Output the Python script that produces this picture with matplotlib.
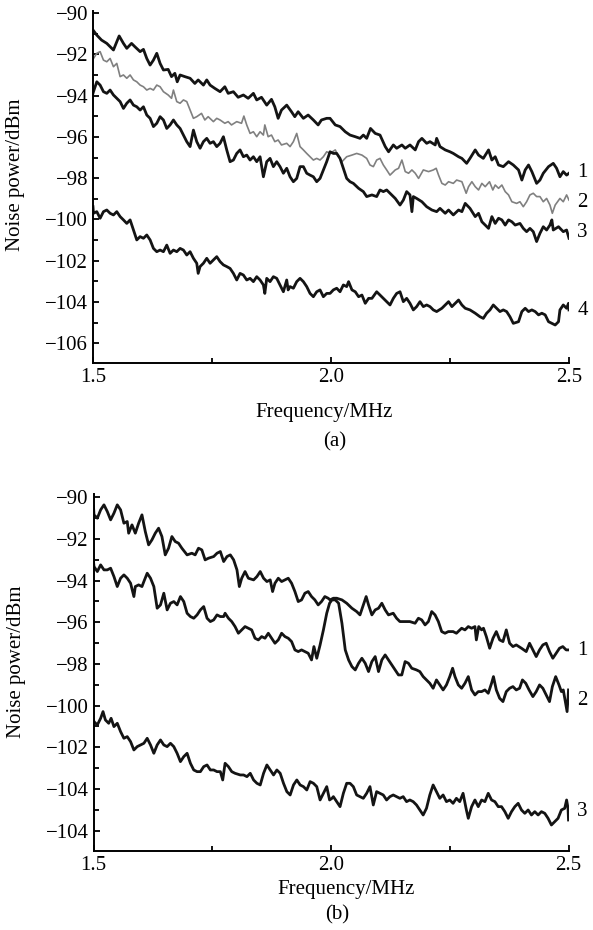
"""Noise power spectra, panels (a) and (b), redrawn from the printed figure."""

import matplotlib

matplotlib.use("Agg")
import matplotlib.pyplot as plt
import numpy as np
from matplotlib.ticker import FixedLocator, MultipleLocator

plt.rcParams["font.family"] = ["Liberation Serif", "DejaVu Serif"]

# (frequency MHz, noise power dBm)
trace_a1 = [
    (1.500, -90.82), (1.508, -91.07), (1.518, -91.31), (1.529, -91.47), (1.543, -91.79), (1.550, -91.39),
    (1.555, -91.11), (1.564, -91.47), (1.571, -91.71), (1.581, -91.47), (1.588, -91.63), (1.599, -91.87),
    (1.606, -91.76), (1.613, -92.20), (1.620, -92.52), (1.627, -92.28), (1.634, -91.95), (1.641, -92.44),
    (1.648, -92.76), (1.658, -92.73), (1.665, -93.08), (1.672, -92.92), (1.677, -93.33), (1.683, -93.00),
    (1.693, -93.08), (1.704, -93.16), (1.714, -93.41), (1.721, -93.24), (1.732, -93.49), (1.739, -93.24),
    (1.746, -93.49), (1.756, -93.65), (1.767, -93.81), (1.777, -93.57), (1.784, -93.89), (1.795, -93.81),
    (1.805, -94.08), (1.816, -93.97), (1.826, -94.13), (1.837, -93.89), (1.844, -94.21), (1.854, -94.08),
    (1.865, -94.46), (1.875, -94.18), (1.882, -94.54), (1.889, -95.10), (1.896, -94.70), (1.907, -94.46),
    (1.917, -94.78), (1.924, -95.02), (1.931, -94.78), (1.942, -95.10), (1.952, -94.94), (1.963, -95.18),
    (1.973, -95.42), (1.980, -95.18), (1.991, -95.10), (1.998, -95.10), (2.009, -95.42), (2.019, -95.50),
    (2.030, -95.75), (2.040, -95.91), (2.051, -95.99), (2.061, -96.07), (2.068, -95.91), (2.075, -96.07),
    (2.083, -95.59), (2.093, -95.83), (2.103, -95.91), (2.114, -96.47), (2.121, -96.72), (2.131, -96.39),
    (2.138, -96.55), (2.149, -96.39), (2.156, -96.55), (2.166, -96.39), (2.177, -96.63), (2.184, -96.23),
    (2.191, -96.07), (2.201, -96.31), (2.208, -96.23), (2.219, -96.39), (2.222, -96.07), (2.229, -96.47),
    (2.240, -96.63), (2.250, -96.72), (2.257, -96.80), (2.268, -96.96), (2.275, -97.04), (2.285, -97.28),
    (2.292, -97.04), (2.303, -96.63), (2.310, -96.88), (2.320, -97.04), (2.331, -96.63), (2.338, -97.12),
    (2.345, -96.96), (2.352, -97.36), (2.362, -97.44), (2.373, -97.20), (2.383, -97.36), (2.394, -97.60),
    (2.401, -98.09), (2.408, -97.60), (2.415, -97.36), (2.422, -97.68), (2.432, -98.25), (2.439, -98.09),
    (2.446, -97.76), (2.457, -97.44), (2.467, -97.28), (2.474, -97.52), (2.481, -97.93), (2.488, -97.68),
    (2.495, -97.85), (2.500, -97.76),
]
trace_a2 = [
    (1.500, -92.11), (1.501, -92.20), (1.508, -91.95), (1.515, -91.87), (1.522, -92.28), (1.529, -92.36),
    (1.536, -92.20), (1.543, -92.60), (1.550, -92.44), (1.557, -93.08), (1.564, -93.00), (1.571, -93.16),
    (1.578, -93.00), (1.585, -93.24), (1.592, -93.33), (1.599, -93.49), (1.606, -93.57), (1.613, -93.73),
    (1.620, -93.65), (1.627, -93.73), (1.634, -93.49), (1.641, -93.57), (1.648, -93.81), (1.658, -93.97),
    (1.665, -94.13), (1.669, -93.73), (1.676, -94.29), (1.683, -94.37), (1.690, -94.21), (1.697, -94.29),
    (1.704, -94.70), (1.711, -95.10), (1.718, -95.02), (1.728, -94.86), (1.735, -95.18), (1.742, -95.02),
    (1.753, -95.26), (1.760, -95.10), (1.767, -95.18), (1.777, -95.34), (1.784, -95.26), (1.791, -95.42),
    (1.802, -95.26), (1.812, -95.34), (1.817, -94.99), (1.823, -95.42), (1.830, -95.83), (1.837, -95.75),
    (1.844, -95.99), (1.851, -95.75), (1.858, -95.91), (1.861, -95.42), (1.868, -95.99), (1.875, -95.91),
    (1.882, -96.23), (1.889, -96.15), (1.896, -96.39), (1.907, -96.31), (1.914, -96.47), (1.921, -96.23),
    (1.928, -95.83), (1.935, -96.47), (1.942, -96.63), (1.949, -96.80), (1.956, -96.96), (1.963, -97.12),
    (1.970, -97.04), (1.977, -97.12), (1.984, -96.96), (1.991, -96.72), (1.998, -96.80), (2.009, -96.63),
    (2.016, -96.96), (2.023, -97.20), (2.033, -96.96), (2.044, -96.88), (2.054, -96.80), (2.065, -96.88),
    (2.075, -97.04), (2.082, -97.36), (2.089, -97.44), (2.096, -97.12), (2.103, -97.04), (2.110, -97.36),
    (2.117, -97.60), (2.124, -97.85), (2.135, -97.60), (2.142, -97.52), (2.149, -97.12), (2.156, -97.68),
    (2.163, -97.76), (2.170, -97.60), (2.177, -97.76), (2.184, -98.01), (2.194, -97.60), (2.205, -97.68),
    (2.215, -97.60), (2.221, -97.52), (2.226, -97.85), (2.233, -98.25), (2.240, -98.33), (2.247, -98.17),
    (2.257, -98.25), (2.264, -98.09), (2.275, -98.17), (2.284, -98.73), (2.289, -98.41), (2.296, -98.17),
    (2.303, -98.41), (2.310, -98.57), (2.317, -98.25), (2.324, -98.41), (2.333, -98.17), (2.340, -98.57),
    (2.345, -98.33), (2.352, -98.49), (2.359, -98.33), (2.366, -98.65), (2.373, -98.81), (2.380, -99.14),
    (2.390, -99.22), (2.397, -99.14), (2.404, -99.38), (2.411, -99.14), (2.418, -98.81), (2.425, -98.73),
    (2.432, -98.89), (2.439, -98.89), (2.446, -99.14), (2.453, -98.98), (2.460, -99.30), (2.465, -99.70),
    (2.471, -99.30), (2.481, -98.98), (2.488, -99.14), (2.495, -98.81), (2.500, -99.06),
]
trace_a3 = [
    (1.500, -93.89), (1.501, -93.81), (1.508, -93.33), (1.515, -93.49), (1.522, -93.81), (1.529, -93.89),
    (1.536, -93.73), (1.543, -93.97), (1.550, -94.13), (1.557, -94.29), (1.564, -94.62), (1.571, -94.37),
    (1.578, -94.21), (1.585, -94.46), (1.592, -94.54), (1.599, -94.70), (1.606, -94.54), (1.613, -94.94),
    (1.620, -95.10), (1.627, -95.50), (1.634, -95.34), (1.641, -95.02), (1.648, -95.18), (1.655, -95.59),
    (1.662, -95.42), (1.669, -95.18), (1.676, -95.42), (1.683, -95.59), (1.690, -95.91), (1.697, -96.23),
    (1.704, -96.47), (1.711, -95.67), (1.718, -96.23), (1.725, -96.55), (1.732, -96.23), (1.739, -96.07),
    (1.746, -96.31), (1.753, -96.23), (1.760, -96.47), (1.767, -96.31), (1.774, -95.99), (1.781, -96.63),
    (1.788, -97.20), (1.795, -97.12), (1.802, -96.80), (1.809, -96.63), (1.816, -96.96), (1.823, -96.88),
    (1.830, -97.12), (1.837, -96.96), (1.844, -97.20), (1.851, -96.96), (1.858, -97.93), (1.865, -97.20),
    (1.872, -97.04), (1.879, -97.44), (1.886, -97.20), (1.893, -97.44), (1.900, -97.76), (1.907, -97.52),
    (1.914, -97.93), (1.921, -98.17), (1.928, -98.01), (1.935, -97.44), (1.942, -97.44), (1.949, -97.76),
    (1.956, -97.85), (1.963, -97.93), (1.970, -98.17), (1.977, -98.01), (1.984, -97.60), (1.991, -97.20),
    (1.998, -96.72), (2.005, -96.80), (2.012, -96.80), (2.019, -97.04), (2.026, -97.52), (2.033, -98.01),
    (2.040, -98.17), (2.047, -98.25), (2.058, -98.49), (2.068, -98.65), (2.075, -98.89), (2.086, -98.81),
    (2.096, -98.89), (2.103, -98.57), (2.110, -98.65), (2.117, -98.57), (2.124, -98.73), (2.135, -98.98),
    (2.145, -99.30), (2.152, -99.06), (2.159, -98.65), (2.166, -98.81), (2.170, -99.62), (2.173, -98.89),
    (2.180, -98.98), (2.191, -99.14), (2.201, -99.38), (2.212, -99.54), (2.222, -99.62), (2.229, -99.46),
    (2.240, -99.70), (2.247, -99.54), (2.257, -99.78), (2.268, -99.54), (2.275, -99.62), (2.282, -99.22),
    (2.292, -99.46), (2.303, -99.86), (2.310, -99.70), (2.317, -100.11), (2.324, -100.27), (2.331, -100.43),
    (2.338, -99.86), (2.345, -100.19), (2.352, -99.94), (2.359, -100.02), (2.366, -100.27), (2.373, -100.02),
    (2.380, -100.11), (2.387, -100.27), (2.397, -100.19), (2.404, -100.43), (2.411, -100.59), (2.418, -100.43),
    (2.425, -100.59), (2.432, -101.07), (2.439, -100.67), (2.446, -100.35), (2.453, -100.51), (2.460, -100.27),
    (2.464, -100.02), (2.467, -100.51), (2.478, -100.35), (2.488, -100.59), (2.495, -100.51), (2.500, -100.91),
]
trace_a4 = [
    (1.500, -99.38), (1.501, -99.70), (1.508, -99.62), (1.515, -99.94), (1.522, -99.62), (1.529, -99.54),
    (1.536, -99.70), (1.543, -99.78), (1.550, -99.62), (1.557, -99.86), (1.564, -100.02), (1.571, -100.19),
    (1.578, -100.02), (1.585, -100.51), (1.592, -100.99), (1.599, -100.83), (1.606, -100.91), (1.613, -100.75),
    (1.620, -100.99), (1.627, -101.40), (1.634, -101.56), (1.641, -101.48), (1.648, -101.56), (1.655, -101.24),
    (1.662, -101.64), (1.669, -101.48), (1.676, -101.56), (1.683, -101.40), (1.690, -101.48), (1.697, -101.72),
    (1.704, -101.56), (1.711, -101.88), (1.718, -102.12), (1.721, -102.61), (1.725, -102.28), (1.732, -102.12),
    (1.739, -101.88), (1.746, -102.12), (1.753, -101.96), (1.760, -101.80), (1.767, -102.04), (1.774, -102.20),
    (1.781, -102.28), (1.788, -102.37), (1.795, -102.61), (1.802, -102.93), (1.809, -102.61), (1.816, -102.69),
    (1.823, -102.93), (1.830, -102.85), (1.837, -103.01), (1.844, -102.77), (1.851, -102.93), (1.858, -103.17),
    (1.861, -103.58), (1.865, -102.85), (1.872, -103.01), (1.879, -102.77), (1.886, -102.85), (1.893, -103.17),
    (1.900, -103.50), (1.907, -102.93), (1.910, -103.41), (1.914, -103.25), (1.921, -103.33), (1.928, -103.01),
    (1.935, -102.85), (1.942, -103.01), (1.949, -103.25), (1.956, -103.58), (1.963, -103.74), (1.970, -103.50),
    (1.977, -103.41), (1.984, -103.74), (1.991, -103.58), (1.998, -103.58), (2.005, -103.41), (2.012, -103.33),
    (2.019, -103.50), (2.026, -103.17), (2.033, -103.25), (2.037, -103.01), (2.044, -103.41), (2.051, -103.50),
    (2.058, -103.74), (2.065, -103.66), (2.072, -104.06), (2.079, -103.82), (2.086, -103.82), (2.096, -103.50),
    (2.103, -103.66), (2.110, -103.82), (2.117, -103.98), (2.124, -104.14), (2.131, -103.82), (2.138, -103.58),
    (2.145, -103.50), (2.152, -103.98), (2.159, -103.82), (2.166, -104.06), (2.173, -104.38), (2.180, -104.22),
    (2.187, -103.98), (2.194, -104.22), (2.201, -104.14), (2.208, -104.22), (2.215, -104.38), (2.222, -104.46),
    (2.233, -104.30), (2.240, -104.14), (2.247, -103.98), (2.254, -104.22), (2.261, -104.06), (2.268, -103.90),
    (2.275, -104.14), (2.282, -104.30), (2.292, -104.38), (2.303, -104.54), (2.313, -104.71), (2.320, -104.79),
    (2.327, -104.54), (2.334, -104.38), (2.341, -104.14), (2.348, -104.30), (2.355, -104.46), (2.362, -104.38),
    (2.369, -104.46), (2.376, -104.71), (2.383, -105.03), (2.394, -104.95), (2.401, -104.46), (2.408, -104.30),
    (2.415, -104.46), (2.422, -104.38), (2.429, -104.46), (2.436, -104.62), (2.443, -104.54), (2.450, -104.62),
    (2.457, -104.95), (2.464, -105.03), (2.471, -105.11), (2.478, -104.95), (2.481, -104.38), (2.488, -104.14),
    (2.495, -104.30), (2.499, -104.06), (2.500, -104.38),
]

trace_b1 = [
    (1.500, -90.45), (1.501, -90.85), (1.508, -91.01), (1.515, -90.61), (1.522, -90.37), (1.529, -90.69),
    (1.536, -91.09), (1.543, -90.77), (1.550, -90.37), (1.557, -90.61), (1.564, -91.25), (1.571, -91.17),
    (1.574, -91.73), (1.581, -91.33), (1.588, -91.73), (1.595, -91.25), (1.602, -90.85), (1.609, -91.65),
    (1.616, -92.29), (1.623, -92.05), (1.630, -91.73), (1.637, -91.49), (1.644, -91.89), (1.651, -92.77),
    (1.658, -92.45), (1.665, -91.89), (1.672, -92.13), (1.679, -92.21), (1.686, -92.45), (1.697, -92.77),
    (1.707, -92.69), (1.714, -92.77), (1.721, -92.45), (1.728, -92.53), (1.735, -93.01), (1.742, -92.93),
    (1.753, -92.85), (1.760, -92.69), (1.767, -92.61), (1.774, -93.09), (1.781, -92.85), (1.788, -92.77),
    (1.795, -93.01), (1.802, -93.49), (1.807, -94.29), (1.812, -93.89), (1.819, -93.57), (1.826, -93.89),
    (1.837, -93.97), (1.844, -93.81), (1.851, -93.57), (1.858, -93.89), (1.865, -94.05), (1.872, -93.97),
    (1.877, -94.53), (1.882, -94.13), (1.889, -93.89), (1.896, -94.05), (1.903, -93.97), (1.910, -93.89),
    (1.917, -94.13), (1.924, -94.53), (1.931, -95.01), (1.938, -94.93), (1.945, -94.61), (1.952, -94.53),
    (1.959, -94.77), (1.966, -94.93), (1.973, -95.17), (1.980, -95.01), (1.987, -94.77), (1.994, -94.85),
    (1.998, -94.93), (2.005, -94.85), (2.012, -94.85), (2.023, -94.93), (2.033, -95.09), (2.044, -95.33),
    (2.054, -95.49), (2.061, -95.65), (2.068, -95.17), (2.074, -94.77), (2.079, -95.17), (2.086, -95.65),
    (2.093, -95.41), (2.100, -95.33), (2.107, -95.09), (2.114, -95.41), (2.121, -95.65), (2.131, -95.57),
    (2.138, -95.81), (2.145, -95.97), (2.156, -95.97), (2.166, -95.97), (2.177, -96.05), (2.184, -95.81),
    (2.191, -95.89), (2.198, -96.13), (2.205, -95.97), (2.212, -95.49), (2.219, -95.65), (2.226, -95.97),
    (2.233, -96.45), (2.240, -96.53), (2.247, -96.45), (2.257, -96.45), (2.264, -96.53), (2.275, -96.29),
    (2.282, -96.37), (2.289, -96.21), (2.296, -96.29), (2.303, -96.21), (2.306, -96.85), (2.311, -96.21),
    (2.317, -96.37), (2.321, -96.29), (2.327, -96.69), (2.334, -97.25), (2.341, -96.77), (2.348, -96.45),
    (2.355, -96.85), (2.362, -96.93), (2.369, -96.37), (2.376, -97.01), (2.383, -97.17), (2.390, -97.09),
    (2.401, -97.25), (2.411, -97.41), (2.418, -97.01), (2.425, -97.33), (2.432, -97.65), (2.439, -97.33),
    (2.446, -97.09), (2.453, -97.01), (2.460, -97.41), (2.467, -97.73), (2.474, -97.49), (2.481, -97.25),
    (2.488, -97.17), (2.495, -97.33), (2.500, -97.33),
]
trace_b2 = [
    (1.500, -93.09), (1.501, -93.33), (1.508, -93.57), (1.515, -93.25), (1.522, -93.49), (1.529, -93.49),
    (1.536, -93.41), (1.543, -93.81), (1.550, -94.29), (1.557, -93.89), (1.564, -93.73), (1.571, -93.89),
    (1.578, -94.13), (1.585, -94.77), (1.588, -94.29), (1.595, -94.21), (1.602, -94.29), (1.606, -94.05),
    (1.613, -93.65), (1.620, -93.89), (1.627, -94.29), (1.634, -95.33), (1.641, -95.17), (1.648, -94.61),
    (1.655, -95.41), (1.662, -95.09), (1.669, -95.01), (1.676, -95.17), (1.683, -94.77), (1.690, -95.01),
    (1.697, -95.57), (1.704, -95.73), (1.711, -95.81), (1.718, -95.65), (1.725, -95.41), (1.732, -95.25),
    (1.739, -95.81), (1.746, -95.97), (1.753, -95.89), (1.760, -95.65), (1.767, -95.73), (1.774, -95.73),
    (1.777, -95.57), (1.784, -95.81), (1.791, -95.97), (1.798, -96.21), (1.805, -96.53), (1.812, -96.37),
    (1.819, -96.21), (1.826, -96.29), (1.833, -96.37), (1.840, -96.77), (1.847, -96.85), (1.854, -96.69),
    (1.861, -96.77), (1.868, -96.53), (1.875, -96.77), (1.882, -97.01), (1.889, -96.85), (1.896, -96.53),
    (1.903, -96.69), (1.910, -96.77), (1.917, -96.93), (1.924, -97.33), (1.931, -97.41), (1.938, -97.33),
    (1.945, -97.41), (1.952, -97.49), (1.959, -97.81), (1.964, -97.17), (1.970, -97.73), (1.977, -97.09),
    (1.984, -96.37), (1.991, -95.57), (1.997, -95.09), (2.002, -94.93), (2.009, -94.93), (2.016, -95.09),
    (2.023, -96.05), (2.030, -97.33), (2.037, -97.81), (2.044, -98.13), (2.051, -98.29), (2.058, -97.97),
    (2.065, -97.73), (2.072, -97.97), (2.079, -98.37), (2.086, -97.89), (2.093, -97.65), (2.100, -98.37),
    (2.107, -97.81), (2.114, -97.57), (2.121, -97.81), (2.128, -98.05), (2.135, -98.29), (2.142, -98.53),
    (2.149, -98.53), (2.156, -97.89), (2.163, -97.97), (2.170, -98.21), (2.180, -98.29), (2.187, -98.37),
    (2.194, -98.61), (2.201, -98.77), (2.208, -98.93), (2.215, -99.17), (2.222, -98.77), (2.229, -99.01),
    (2.236, -99.25), (2.243, -99.01), (2.250, -98.61), (2.256, -98.21), (2.261, -98.61), (2.268, -99.01),
    (2.275, -99.17), (2.282, -98.93), (2.289, -98.61), (2.296, -99.25), (2.303, -99.49), (2.310, -99.33),
    (2.317, -99.33), (2.324, -99.25), (2.331, -99.41), (2.338, -98.93), (2.342, -98.61), (2.348, -99.25),
    (2.355, -99.65), (2.362, -99.81), (2.369, -99.33), (2.376, -99.17), (2.383, -99.09), (2.390, -99.25),
    (2.397, -99.17), (2.403, -98.77), (2.410, -98.93), (2.417, -99.25), (2.425, -99.57), (2.432, -99.33),
    (2.439, -99.01), (2.446, -99.17), (2.453, -99.49), (2.460, -99.81), (2.466, -99.09), (2.473, -98.61),
    (2.480, -99.01), (2.485, -99.33), (2.489, -99.25), (2.494, -99.89), (2.497, -100.29), (2.499, -99.65),
    (2.500, -99.25),
]
trace_b3 = [
    (1.500, -100.69), (1.501, -100.77), (1.508, -100.93), (1.515, -100.61), (1.520, -100.29), (1.525, -100.69),
    (1.532, -100.85), (1.537, -100.61), (1.543, -101.01), (1.550, -100.85), (1.557, -101.25), (1.564, -101.57),
    (1.571, -101.49), (1.578, -101.73), (1.585, -102.13), (1.592, -101.97), (1.599, -101.89), (1.606, -101.81),
    (1.613, -101.57), (1.620, -101.89), (1.627, -102.29), (1.634, -101.89), (1.641, -101.65), (1.648, -101.89),
    (1.655, -101.97), (1.662, -101.81), (1.669, -101.97), (1.676, -102.29), (1.683, -102.69), (1.690, -102.45),
    (1.697, -102.29), (1.704, -102.77), (1.711, -103.09), (1.718, -103.17), (1.725, -103.17), (1.732, -102.93),
    (1.739, -102.85), (1.746, -103.09), (1.753, -103.09), (1.760, -103.17), (1.767, -103.17), (1.772, -103.57),
    (1.777, -102.77), (1.784, -102.93), (1.791, -103.17), (1.798, -103.25), (1.809, -103.33), (1.816, -103.33),
    (1.823, -103.41), (1.830, -103.25), (1.837, -103.57), (1.844, -103.73), (1.851, -103.81), (1.858, -103.25),
    (1.865, -102.85), (1.872, -103.09), (1.879, -103.33), (1.886, -103.09), (1.893, -103.25), (1.900, -103.73),
    (1.907, -104.13), (1.914, -104.29), (1.921, -103.81), (1.928, -103.57), (1.935, -103.81), (1.942, -103.89),
    (1.949, -104.05), (1.956, -103.65), (1.963, -103.73), (1.970, -103.89), (1.977, -104.53), (1.984, -104.21),
    (1.991, -103.89), (1.997, -104.53), (2.002, -104.45), (2.005, -104.37), (2.012, -104.61), (2.019, -104.85),
    (2.026, -104.21), (2.033, -103.73), (2.040, -103.73), (2.047, -103.89), (2.054, -104.29), (2.061, -104.37),
    (2.068, -104.45), (2.075, -104.21), (2.082, -103.89), (2.089, -104.77), (2.096, -104.13), (2.103, -104.21),
    (2.110, -104.29), (2.117, -104.53), (2.124, -104.37), (2.131, -104.29), (2.138, -104.37), (2.145, -104.45),
    (2.152, -104.37), (2.159, -104.61), (2.166, -104.53), (2.173, -104.61), (2.180, -104.77), (2.187, -105.01),
    (2.194, -105.25), (2.201, -104.93), (2.208, -104.29), (2.215, -103.81), (2.222, -104.13), (2.229, -104.45),
    (2.236, -104.29), (2.243, -104.61), (2.250, -104.53), (2.257, -104.69), (2.264, -104.45), (2.271, -104.61),
    (2.278, -104.21), (2.285, -105.01), (2.289, -105.41), (2.296, -104.85), (2.303, -104.53), (2.310, -104.85),
    (2.317, -104.53), (2.324, -104.61), (2.331, -104.21), (2.338, -104.53), (2.345, -104.61), (2.352, -104.85),
    (2.359, -104.85), (2.366, -105.09), (2.373, -105.41), (2.380, -105.09), (2.387, -104.85), (2.394, -104.69),
    (2.401, -105.01), (2.408, -105.17), (2.415, -105.01), (2.422, -105.25), (2.429, -105.09), (2.436, -105.25),
    (2.443, -105.09), (2.450, -105.17), (2.457, -105.41), (2.464, -105.73), (2.471, -105.57), (2.478, -105.41),
    (2.485, -105.01), (2.492, -104.93), (2.496, -104.53), (2.499, -104.93), (2.500, -105.49),
]

curve_names_a = ["1", "2", "3", "4"]
curve_names_b = ["1", "2", "3"]
name_levels_a = [-97.7, -99.2, -100.65, -104.4]
name_levels_b = [-97.35, -99.75, -105.1]

xticks = [1.5, 2.0, 2.5]
xtick_labels = ["1.5", "2.0", "2.5"]
yticks = [-90, -92, -94, -96, -98, -100, -102, -104, -106]
ytick_labels_a = ["\u221290", "\u221292", "\u221294", "\u221296", "\u221298",
                  "\u2212100", "\u2212102", "\u2212104", "\u2212106"]
# panel (b) prints -104 twice at the bottom, kept as printed
ytick_labels_b = ["\u221290", "\u221292", "\u221294", "\u221296", "\u221298",
                  "\u2212100", "\u2212102", "\u2212104", "\u2212104"]

FS = 15
BLACK = "#141414"
GREY = "#808080"


def style_axes(ax, ylim, ylabels):
    ax.set_xlim(1.5, 2.5)
    ax.set_ylim(*ylim)
    for side in ("top", "right"):
        ax.spines[side].set_visible(False)
    for side in ("left", "bottom"):
        ax.spines[side].set_linewidth(1.4)
    ax.set_xticks(xticks, labels=xtick_labels)
    ax.xaxis.set_minor_locator(FixedLocator([1.75, 2.25]))
    ax.set_yticks(yticks, labels=ylabels)
    ax.yaxis.set_minor_locator(MultipleLocator(1))
    ax.tick_params(which="both", direction="in", width=1.3, labelsize=FS, pad=3.5)
    ax.tick_params(which="major", length=4)
    ax.tick_params(which="minor", length=3.5)


def draw_panel(ax, traces, colours, widths, names, levels):
    for trace, colour, lw in zip(traces, colours, widths):
        arr = np.array(trace)
        ax.plot(arr[:, 0], arr[:, 1], color=colour, linewidth=lw, solid_joinstyle="round")
    for name, level in zip(names, levels):
        ax.annotate(name, xy=(2.5, level), xytext=(6, 0), textcoords="offset points",
                    ha="left", va="center", fontsize=FS, annotation_clip=False)


fig = plt.figure(figsize=(5.93, 9.30), dpi=100)

ax_a = fig.add_axes([0.1568, 0.6097, 0.8027, 0.3785])
draw_panel(ax_a, [trace_a1, trace_a2, trace_a3, trace_a4], [BLACK, GREY, BLACK, BLACK],
           [2.0, 1.2, 2.0, 2.0], curve_names_a, name_levels_a)
style_axes(ax_a, (-106.95, -89.9), ytick_labels_a)
ax_a.set_xlabel("Frequency/MHz", fontsize=FS)
ax_a.xaxis.set_label_coords(0.485, -0.1136)
ax_a.set_ylabel("Noise power/dBm", fontsize=FS)
ax_a.yaxis.set_label_coords(-0.143, 0.534)

ax_b = fig.add_axes([0.1577, 0.0849, 0.801, 0.3839])
draw_panel(ax_b, [trace_b1, trace_b2, trace_b3], [BLACK, BLACK, BLACK],
           [2.0, 2.0, 2.0], curve_names_b, name_levels_b)
style_axes(ax_b, (-106.98, -89.85), ytick_labels_b)
ax_b.set_xlabel("Frequency/MHz", fontsize=FS)
ax_b.xaxis.set_label_coords(0.532, -0.081)
ax_b.set_ylabel("Noise power/dBm", fontsize=FS)
ax_b.yaxis.set_label_coords(-0.143, 0.529)

fig.text(335 / 593, 1 - 442 / 930, "(a)", ha="center", va="center", fontsize=FS)
fig.text(337 / 593, 1 - 915 / 930, "(b)", ha="center", va="center", fontsize=FS)

fig.savefig("out.png", dpi=100)
plt.close(fig)
